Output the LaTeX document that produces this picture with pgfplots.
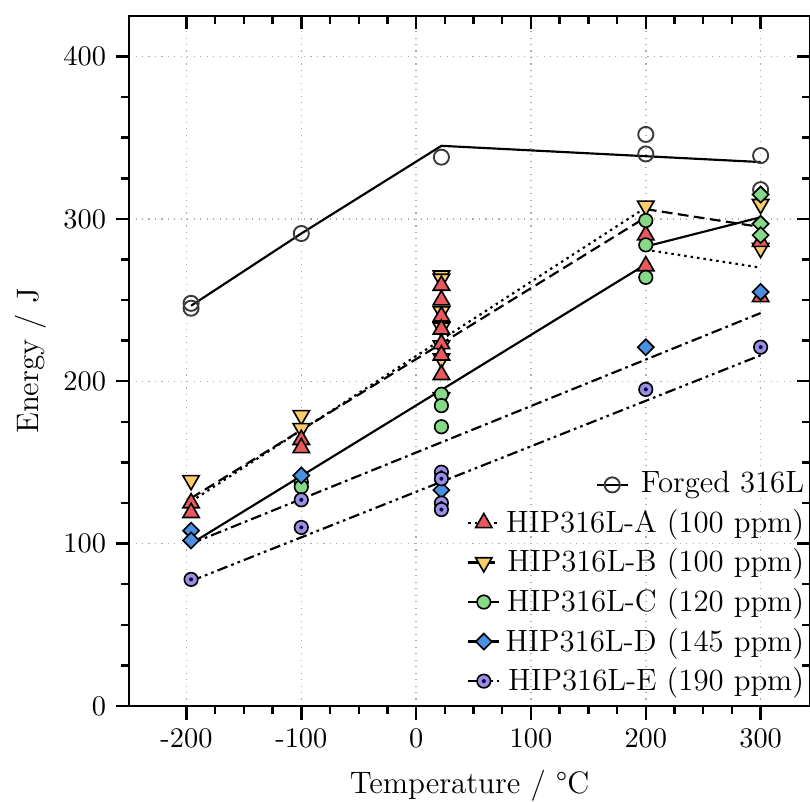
\documentclass[border=0pt]{standalone}
\usepackage{pgfplots}
\pgfplotsset{compat=1.18}
\usetikzlibrary{plotmarks}
\definecolor{cA}{HTML}{E8585C}
\definecolor{cB}{HTML}{FCCB6B}
\definecolor{cC}{HTML}{86D987}
\definecolor{cD}{HTML}{4A90E2}
\definecolor{cE}{HTML}{9B8FE0}
\definecolor{cF}{HTML}{3A3A3A}
\pgfdeclareplotmark{dotcircle}{%
  \pgfpathcircle{\pgfpointorigin}{\pgfplotmarksize}%
  \pgfusepathqfillstroke
  \pgfscope
  \pgfsetfillcolor{black!70!blue}%
  \pgfpathcircle{\pgfpointorigin}{0.3\pgfplotmarksize}%
  \pgfusepathqfill
  \endpgfscope
}
\newcommand\legfont{\fontsize{11.4}{13}\selectfont}
\tikzset{
  lwA/.style={black, line width=0.8pt, dash pattern=on 0.9pt off 1.5pt},
  lwB/.style={black, line width=0.8pt, dash pattern=on 4pt off 2pt},
  lwC/.style={black, line width=0.8pt, solid},
  lwD/.style={black, line width=0.8pt, dash pattern=on 4pt off 1.5pt on 1pt off 1.5pt},
  lwE/.style={black, line width=0.8pt, dash pattern=on 4pt off 1.5pt on 1pt off 1.5pt on 1pt off 1.5pt},
  mkF/.style={mark=o, mark size=2.8pt, mark options={solid, draw=cF, line width=0.7pt}},
  mkA/.style={mark=triangle*, mark size=3.5pt, mark options={solid, fill=cA, draw=black, line width=0.6pt}},
  mkB/.style={mark=triangle*, mark size=3.5pt, mark options={solid, fill=cB, draw=black, line width=0.6pt, rotate=180}},
  mkC/.style={mark=*, mark size=2.5pt, mark options={solid, fill=cC, draw=black, line width=0.6pt}},
  mkCd/.style={mark=square*, mark size=2.1pt, mark options={solid, fill=cC, draw=black, line width=0.6pt, rotate=45}},
  mkD/.style={mark=square*, mark size=2.1pt, mark options={solid, fill=cD, draw=black, line width=0.6pt, rotate=45}},
  mkE/.style={mark=dotcircle, mark size=2.5pt, mark options={solid, fill=cE, draw=black, line width=0.6pt}},
}
\begin{document}
\begin{tikzpicture}
\useasboundingbox (-47.8pt,-35.2pt) rectangle (252.2pt,261.5pt);
\begin{axis}[
  scale only axis, width=252.2pt, height=255.6pt,
  xmin=-250, xmax=343, ymin=0, ymax=425,
  xtick={-200,-100,0,100,200,300}, ytick={0,100,200,300,400},
  minor x tick num=3, minor y tick num=3,
  xtick pos=bottom, ytick pos=left,
  tick align=outside,
  major tick length=5pt, minor tick length=3pt,
  every tick/.style={black, line width=0.9pt},
  axis line style={line width=1pt},
  grid=major, major grid style={gray!65, dotted, line width=0.55pt},
  /pgf/number format/assume math mode=true,
  tick label style={font=\fontsize{10.5}{12}\selectfont},
  xlabel={Temperature / \textdegree C}, ylabel={Energy / J},
  xlabel style={font=\fontsize{11.5}{13}\selectfont, at={(axis description cs:0.5,-0.126)}, anchor=base},
  ylabel style={font=\fontsize{11.5}{13}\selectfont, at={(axis description cs:-0.1336,0.5)}, anchor=base},
  legend style={at={(axis description cs:1.012,0.0)}, anchor=south east, draw=none, fill=none, font=\legfont, row sep=0.6pt},
  legend cell align=right,
  legend image code/.code={\draw[mark repeat=2,mark phase=2,#1] plot coordinates {(0cm,0cm) (0.2cm,0cm) (0.4cm,0cm)};},
]
% fitted / mean lines
\addplot[lwC, forget plot] coordinates {(-196,246.5) (-100,291) (22,345) (300,335)};
\addplot[lwA, forget plot] coordinates {(-196,126) (200,307)};
\addplot[lwA, forget plot] coordinates {(200,281) (300,270)};
\addplot[lwB, forget plot] coordinates {(-196,128) (200,301)};
\addplot[lwB, forget plot] coordinates {(200,306) (300,295)};
\addplot[lwC, forget plot] coordinates {(-196,100) (200,272)};
\addplot[lwC, forget plot] coordinates {(200,283) (300,301)};
\addplot[lwD, forget plot] coordinates {(-196,100) (300,242)};
\addplot[lwE, forget plot] coordinates {(-196,77) (300,216)};
% Forged 316L
\addplot[only marks, mkF, forget plot] coordinates {(-196,245) (-196,248) (-100,291) (22,338) (200,352) (200,340) (300,339) (300,318)};
% B
\addplot[only marks, mkB, forget plot] coordinates {(-196,139) (-100,179) (-100,171) (22,265) (22,263) (22,243) (22,233) (22,222) (22,214) (22,190) (200,308) (300,309) (300,282)};
% A
\addplot[only marks, mkA, forget plot] coordinates {(-196,125) (-196,119) (-100,164) (-100,159) (22,259) (22,250) (22,240) (22,232) (22,223) (22,216) (22,204) (200,290) (200,271) (300,286) (300,252)};
% C
\addplot[only marks, mkC, forget plot] coordinates {(-100,138) (-100,135) (22,192) (22,185) (22,172) (200,299) (200,284) (200,264)};
\addplot[only marks, mkCd, forget plot] coordinates {(300,315) (300,297) (300,290)};
% D
\addplot[only marks, mkD, forget plot] coordinates {(-196,108) (-196,102) (-100,142) (22,133) (200,221) (300,255)};
% E
\addplot[only marks, mkE, forget plot] coordinates {(-196,78) (-100,127) (-100,110) (22,144) (22,140) (22,125) (22,121) (200,195) (300,221)};
% legend
\addlegendimage{empty legend}
\addlegendentry{\tikz[baseline=-0.6ex]\draw[lwC, mark=o, mark size=2.8pt, mark options={solid, draw=cF, line width=0.7pt}, mark repeat=2, mark phase=2] plot coordinates {(0cm,0cm) (0.2cm,0cm) (0.4cm,0cm)};\hspace{4.5pt}Forged 316L}
\addlegendimage{lwA, mkA}
\addlegendentry{HIP316L-A (100 ppm)}
\addlegendimage{lwB, mkB}
\addlegendentry{HIP316L-B (100 ppm)}
\addlegendimage{lwC, mkC}
\addlegendentry{HIP316L-C (120 ppm)}
\addlegendimage{lwD, mkD}
\addlegendentry{HIP316L-D (145 ppm)}
\addlegendimage{lwE, mkE}
\addlegendentry{HIP316L-E (190 ppm)}
\end{axis}
\begin{axis}[
  scale only axis, width=252.2pt, height=255.6pt,
  xmin=-250, xmax=343, ymin=0, ymax=425,
  xtick={-200,-100,0,100,200,300}, ytick={0,100,200,300,400},
  minor x tick num=3, minor y tick num=3,
  xtick pos=top, ytick pos=right,
  tick align=inside,
  major tick length=5pt, minor tick length=3pt,
  every tick/.style={black, line width=0.9pt},
  axis line style={line width=1pt},
  xticklabels={}, yticklabels={},
]
\end{axis}
\end{tikzpicture}
\end{document}
